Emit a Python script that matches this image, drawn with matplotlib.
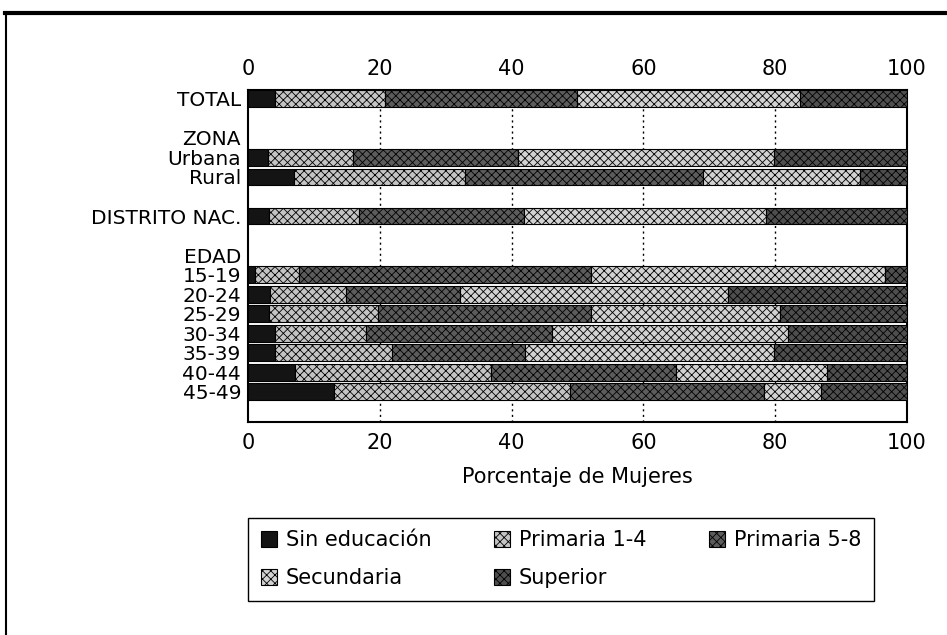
import matplotlib
matplotlib.use('Agg')
import matplotlib.pyplot as plt
import numpy as np
from matplotlib.lines import Line2D

plt.rcParams['font.family'] = ['DejaVu Sans']
plt.rcParams['hatch.linewidth'] = 0.6

# filas del eje (las vacias y los titulos de grupo no llevan barra)
filas = ['TOTAL', '', 'ZONA', 'Urbana', 'Rural', '', 'DISTRITO NAC.', '',
         'EDAD', '15-19', '20-24', '25-29', '30-34', '35-39', '40-44', '45-49']

grupos = ['TOTAL', 'Urbana', 'Rural', 'DISTRITO NAC.', '15-19', '20-24',
          '25-29', '30-34', '35-39', '40-44', '45-49']

sin_educacion = [4.1, 3.1, 7.0, 3.2, 1.1, 3.3, 3.2, 4.1, 4.1, 7.2, 13.1]
primaria_1_4 = [16.7, 12.8, 25.9, 13.6, 6.7, 11.6, 16.6, 13.8, 17.8, 29.7, 35.8]
primaria_5_8 = [29.1, 25.0, 36.1, 25.1, 44.2, 17.2, 32.2, 28.2, 20.1, 28.1, 29.4]
secundaria = [33.9, 38.9, 23.9, 36.7, 44.7, 40.8, 28.8, 35.8, 37.8, 22.8, 8.6]
superior = [16.2, 20.2, 7.1, 21.4, 3.3, 27.1, 19.2, 18.1, 20.2, 12.2, 13.1]

xticks = [0, 20, 40, 60, 80, 100]

series = [
    ('Sin educación', sin_educacion, '#141414', ''),
    ('Primaria 1-4', primaria_1_4, '#c4c4c4', 'xxxx'),
    ('Primaria 5-8', primaria_5_8, '#5c5c5c', 'xxxx'),
    ('Secundaria', secundaria, '#d2d2d2', 'xxxx'),
    ('Superior', superior, '#4e4e4e', 'xxxx'),
]

fig = plt.figure(figsize=(9.47, 6.35), dpi=100)
ax = fig.add_axes([248 / 947, 1 - 422 / 635, 659 / 947, 332 / 635])

pos = np.array([filas.index(g) for g in grupos])
izq = np.zeros(len(grupos))
barras = []
for nombre, vals, color, hatch in series:
    b = ax.barh(pos, vals, left=izq, height=0.87, color=color, hatch=hatch,
                edgecolor='black', linewidth=0.8, label=nombre, zorder=3)
    barras.append(b)
    izq += np.array(vals)

for x in xticks[1:-1]:
    ax.axvline(x, color='black', linestyle=(0, (1.5, 2.5)), linewidth=1.0, zorder=1)

ax.set_xlim(0, 100)
ax.set_ylim(16.56, -0.46)

con_etiqueta = [i for i, f in enumerate(filas) if f]
ax.set_yticks(con_etiqueta)
ax.set_yticklabels([filas[i] for i in con_etiqueta], fontsize=14.5)
ax.set_xticks(xticks)
ax.set_xticklabels([str(x) for x in xticks], fontsize=15)
ax.tick_params(axis='x', length=0, pad=8, top=True, labeltop=True)
ax.tick_params(axis='y', length=0, pad=5)

for s in ax.spines.values():
    s.set_linewidth(1.5)
    s.set_color('black')

ax.set_xlabel('Porcentaje de Mujeres', fontsize=15, labelpad=10)

# leyenda por filas: se reordena porque matplotlib llena por columnas
orden = [0, 3, 1, 4, 2]
leg = fig.legend([barras[i] for i in orden], [series[i][0] for i in orden],
                 loc='upper left', bbox_to_anchor=(248 / 947, 1 - 518 / 635),
                 borderaxespad=0, ncol=3, fontsize=15, frameon=True,
                 fancybox=False, edgecolor='black', framealpha=1,
                 handlelength=0.8, handleheight=0.8, handletextpad=0.4,
                 columnspacing=3.0, borderpad=0.6, labelspacing=0.85)
leg.get_frame().set_linewidth(1.0)

# marco del documento escaneado
fig.add_artist(Line2D([5 / 947, 1], [1 - 13 / 635, 1 - 13 / 635],
                      transform=fig.transFigure, color='black', linewidth=3))
fig.add_artist(Line2D([5.5 / 947, 5.5 / 947], [0, 1 - 13 / 635],
                      transform=fig.transFigure, color='black', linewidth=1.5))

fig.savefig('out.png', dpi=100)
